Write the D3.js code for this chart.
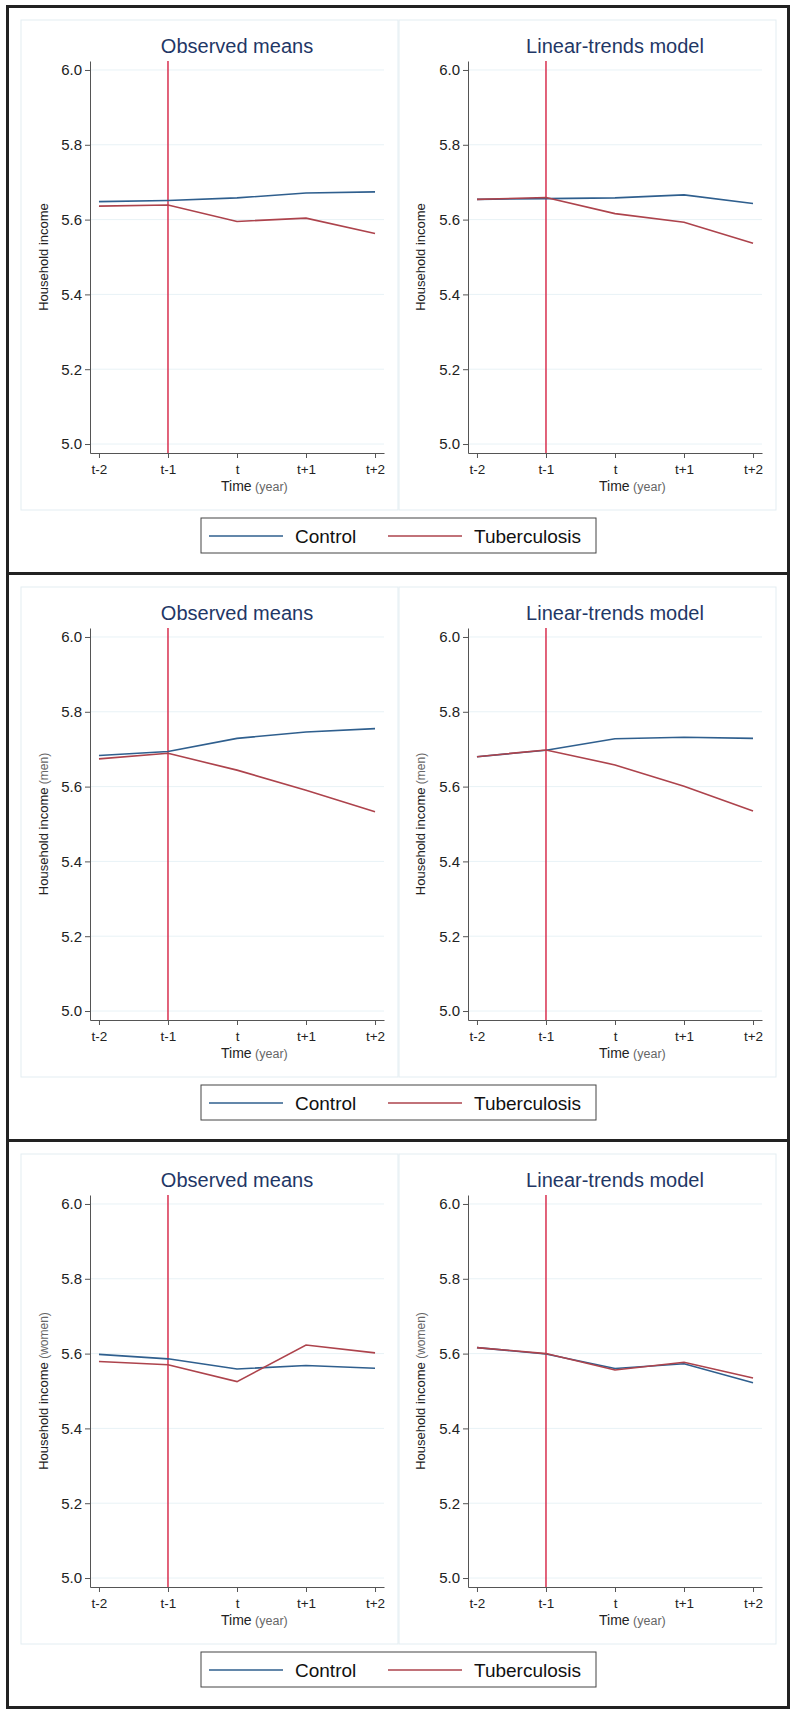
<!doctype html>
<html>
<head>
<script src="https://d3js.org/d3.v7.min.js"></script>
<style>
  body { margin: 0; background: #fff; }
  svg { display: block; font-family: "Liberation Sans", Arial, sans-serif; }
</style>
</head>
<body>
<svg width="796" height="1714"></svg>
<script>
// categories and tick labels
var timeLabels = ["t-2", "t-1", "t", "t+1", "t+2"];
var yTicks = [5.0, 5.2, 5.4, 5.6, 5.8, 6.0];
var panelTitles = ["Observed means", "Linear-trends model"];
var rowSuffix = ["", "(men)", "(women)"];
var seriesNames = ["Control", "Tuberculosis"];
var eventTime = "t-1";

// all
var obsControlAll   = [5.648, 5.651, 5.658, 5.671, 5.674];
var obsTbAll        = [5.636, 5.639, 5.595, 5.604, 5.563];
var trendControlAll = [5.654, 5.656, 5.658, 5.666, 5.643];
var trendTbAll      = [5.654, 5.659, 5.616, 5.593, 5.537];
// men
var obsControlMen   = [5.683, 5.694, 5.729, 5.746, 5.755];
var obsTbMen        = [5.674, 5.689, 5.644, 5.590, 5.533];
var trendControlMen = [5.680, 5.697, 5.728, 5.732, 5.729];
var trendTbMen      = [5.680, 5.698, 5.658, 5.601, 5.535];
// women
var obsControlWomen   = [5.598, 5.586, 5.559, 5.568, 5.561];
var obsTbWomen        = [5.579, 5.570, 5.525, 5.623, 5.602];
var trendControlWomen = [5.616, 5.599, 5.560, 5.573, 5.522];
var trendTbWomen      = [5.616, 5.600, 5.556, 5.577, 5.535];

var rows = [
    [[obsControlAll, obsTbAll], [trendControlAll, trendTbAll]],
    [[obsControlMen, obsTbMen], [trendControlMen, trendTbMen]],
    [[obsControlWomen, obsTbWomen], [trendControlWomen, trendTbWomen]]
];

var colors = ["#2f5f8e", "#ad434c"];
var vlineColor = "#d8304f";

var svg = d3.select("svg"),
    rowH = 567,
    colW = 378;

var x = d3.scalePoint().domain(timeLabels).range([90, 384]).padding(0.13),
    y = d3.scaleLinear().domain([4.976, 6.024]).range([453, 61]);

var line = d3.line()
    .x(function(d, i) { return x(timeLabels[i]); })
    .y(function(d) { return y(d); });

rows.forEach(function(row, r) {
    var oy = r * rowH;

    row.forEach(function(panel, c) {
        var g = svg.append("g")
            .attr("transform", "translate(" + (c * colW) + "," + oy + ")");

        // light panel frame
        g.append("rect")
            .attr("x", 21).attr("y", 20)
            .attr("width", 377).attr("height", 490)
            .style("fill", "#fff")
            .style("stroke", "#e3edf2");

        // gridlines
        g.append("g").selectAll("line")
            .data(yTicks)
            .enter().append("line")
            .attr("x1", 90).attr("x2", 384)
            .attr("y1", function(d) { return y(d); })
            .attr("y2", function(d) { return y(d); })
            .style("stroke", "#e8f2f6");

        // axes
        var ya = g.append("g")
            .attr("transform", "translate(90,0)")
            .call(d3.axisLeft(y).tickValues(yTicks).tickFormat(d3.format(".1f")).tickSize(5).tickSizeOuter(0));
        ya.selectAll("text").style("font-size", "15px").style("fill", "#222");

        var xa = g.append("g")
            .attr("transform", "translate(0,453)")
            .call(d3.axisBottom(x).tickSize(5).tickSizeOuter(0).tickPadding(6));
        xa.selectAll("text").style("font-size", "13.5px").style("fill", "#222");

        g.selectAll(".domain, .tick line").style("stroke", "#555");
        g.selectAll(".tick text").style("font-family", "'Liberation Sans', Arial, sans-serif");

        // event line
        g.append("line")
            .attr("x1", x(eventTime)).attr("x2", x(eventTime))
            .attr("y1", 61).attr("y2", 453)
            .style("stroke", vlineColor)
            .style("stroke-width", 1.5);

        // series
        panel.forEach(function(vals, s) {
            g.append("path")
                .datum(vals)
                .attr("d", line)
                .style("fill", "none")
                .style("stroke", colors[s])
                .style("stroke-width", 1.6);
        });

        // title
        g.append("text")
            .attr("x", 237).attr("y", 53)
            .attr("text-anchor", "middle")
            .style("font-size", "20px")
            .style("fill", "#1f3766")
            .text(panelTitles[c]);

        // x title
        var xt = g.append("text")
            .attr("x", 221).attr("y", 491)
            .style("font-size", "14px")
            .style("fill", "#222");
        xt.append("tspan").text("Time");
        xt.append("tspan").style("font-size", "12.5px").style("fill", "#666").text(" (year)");

        // y title
        var yt = g.append("text")
            .attr("transform", "translate(" + (c === 0 ? 48 : 47) + ",257)rotate(-90)")
            .attr("text-anchor", "middle")
            .style("font-size", "13px")
            .style("fill", "#222");
        yt.append("tspan").text("Household income");
        if (rowSuffix[r]) {
            yt.append("tspan").style("font-size", "12px").style("fill", "#666").text(" " + rowSuffix[r]);
        }
    });

    // legend
    var lg = svg.append("g").attr("transform", "translate(0," + oy + ")");
    lg.append("rect")
        .attr("x", 201).attr("y", 518)
        .attr("width", 395).attr("height", 35)
        .style("fill", "#fff")
        .style("stroke", "#444");
    var lx = [209, 388];
    seriesNames.forEach(function(name, s) {
        lg.append("line")
            .attr("x1", lx[s]).attr("x2", lx[s] + 74)
            .attr("y1", 536).attr("y2", 536)
            .style("stroke", colors[s])
            .style("stroke-width", 1.6);
        lg.append("text")
            .attr("x", lx[s] + 86).attr("y", 543)
            .style("font-size", "19px")
            .style("fill", "#111")
            .text(name);
    });
});

// outer frame and row separators
svg.append("rect")
    .attr("x", 7.5).attr("y", 6.5)
    .attr("width", 781).attr("height", rowH * 3)
    .style("fill", "none")
    .style("stroke", "#222")
    .style("stroke-width", 3);

svg.append("g").selectAll("line")
    .data([1, 2])
    .enter().append("line")
    .attr("x1", 7.5).attr("x2", 788.5)
    .attr("y1", function(d) { return 6.5 + d * rowH; })
    .attr("y2", function(d) { return 6.5 + d * rowH; })
    .style("stroke", "#222")
    .style("stroke-width", 3);
</script>
</body>
</html>
